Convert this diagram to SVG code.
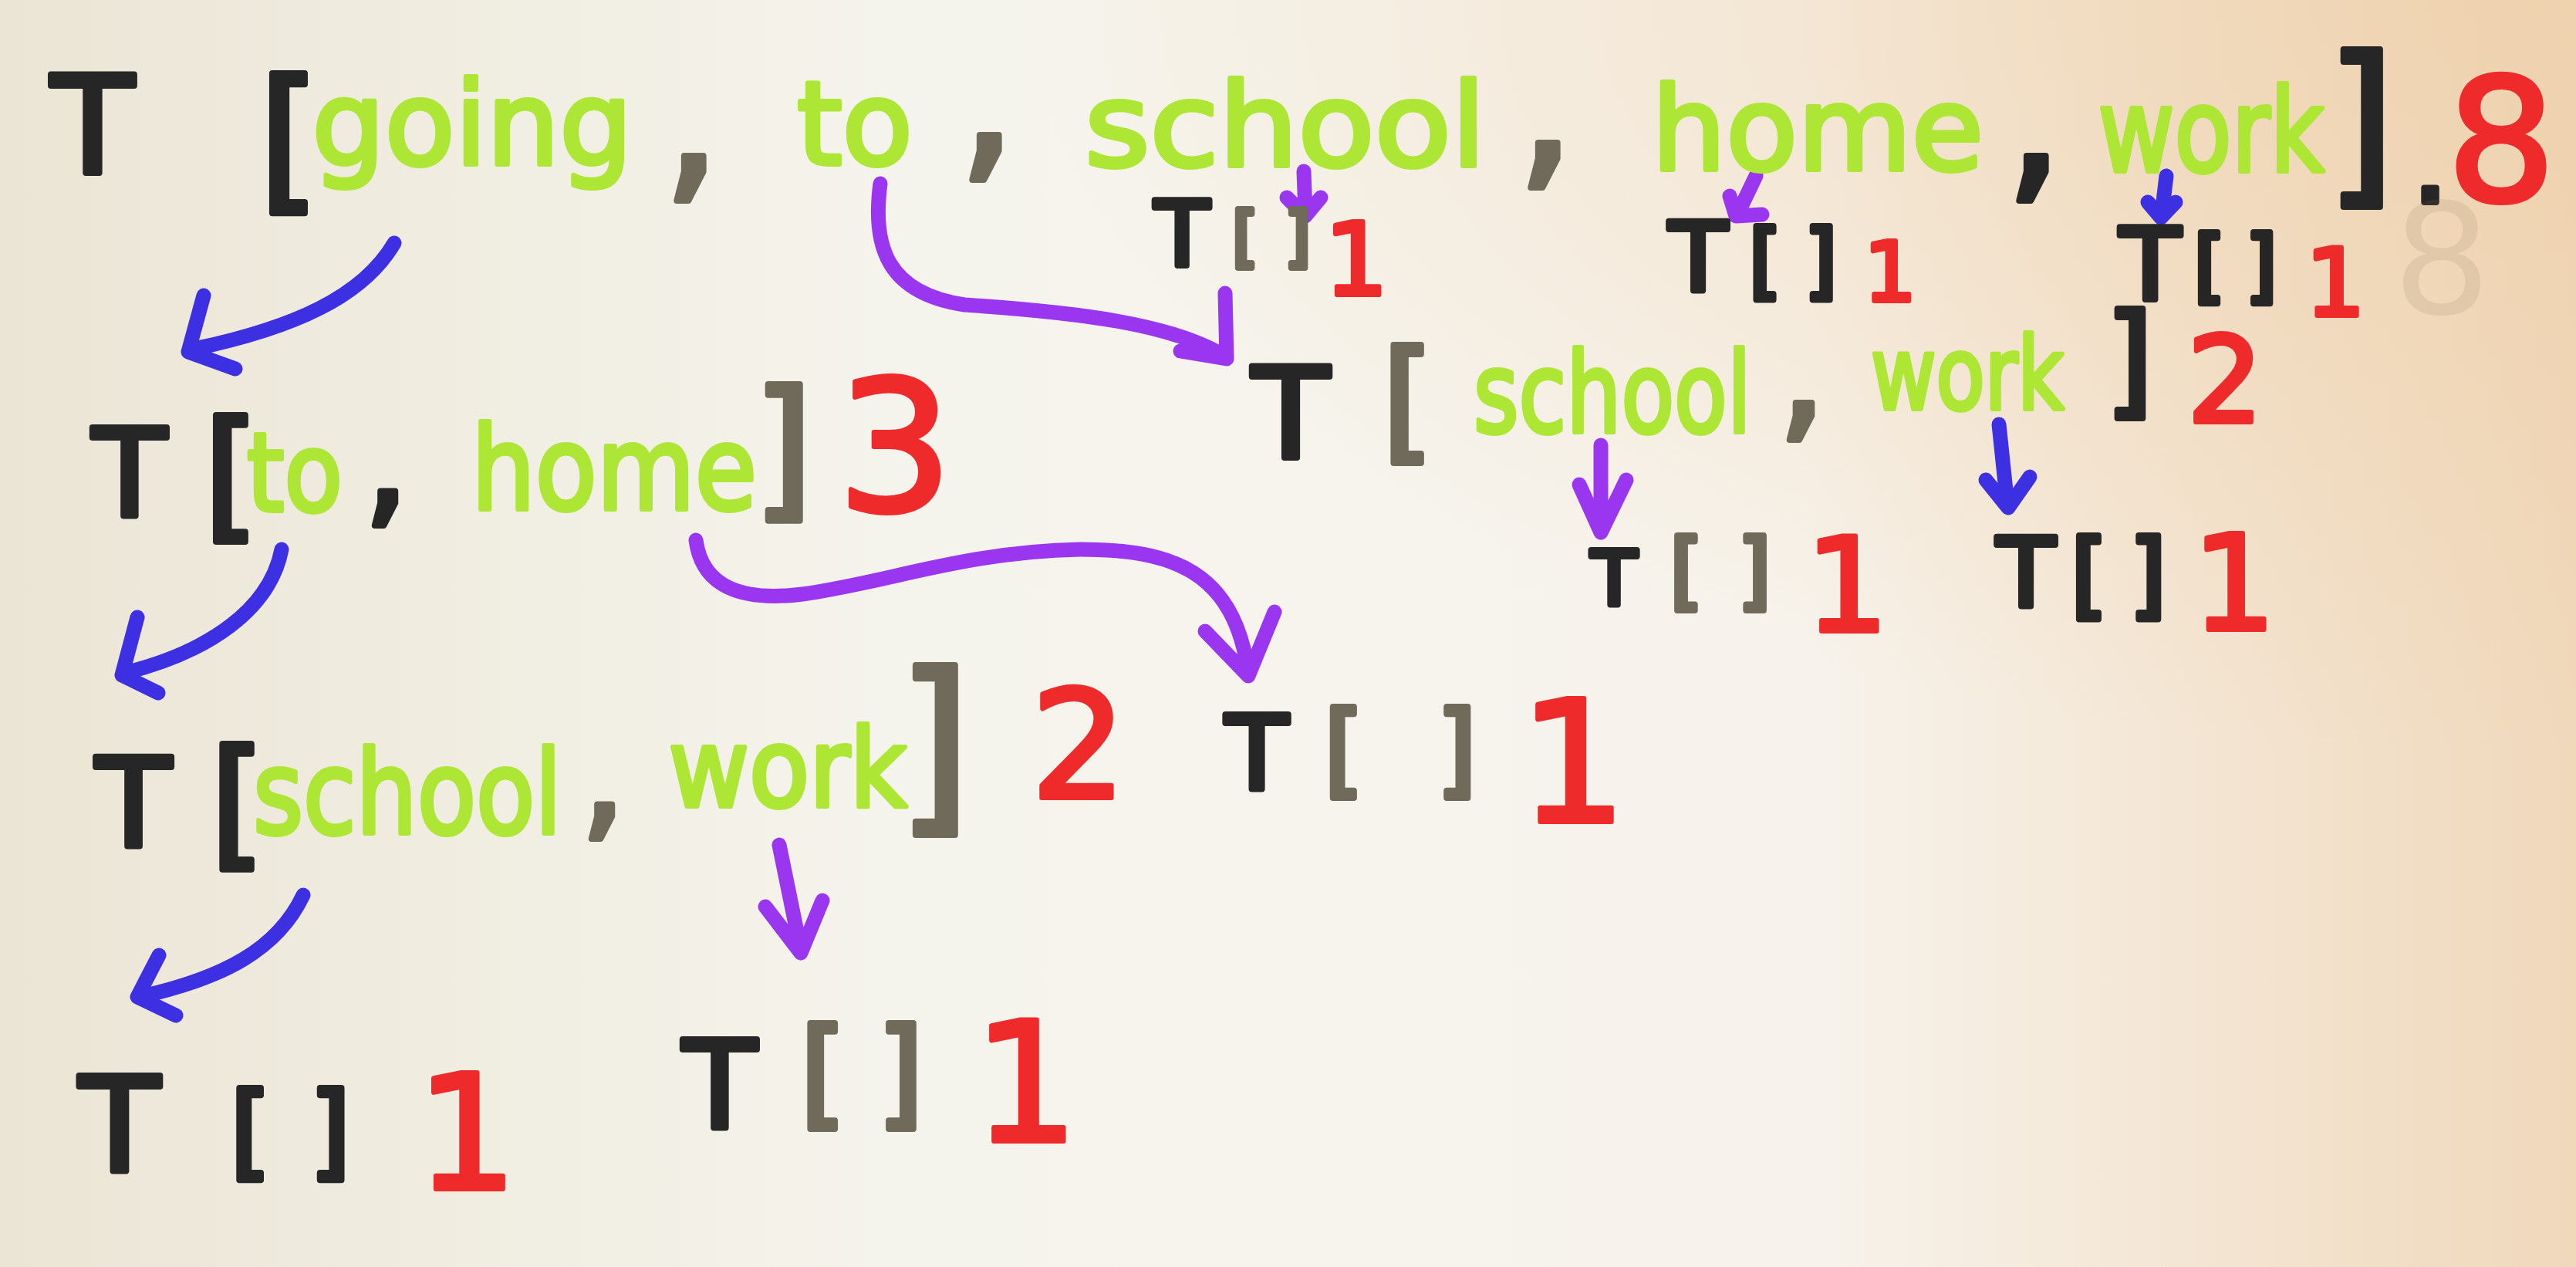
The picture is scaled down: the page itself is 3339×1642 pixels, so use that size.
<svg xmlns="http://www.w3.org/2000/svg" width="3339" height="1642" viewBox="0 0 3339 1642">
<defs>
<linearGradient id="bg" x1="0" y1="0" x2="1" y2="0">
<stop offset="0" stop-color="#ebe5d5"/>
<stop offset="0.35" stop-color="#f5f4ec"/>
<stop offset="0.7" stop-color="#f7f3ec"/>
<stop offset="1" stop-color="#f0d8bb"/>
</linearGradient>
<radialGradient id="warm" cx="1" cy="0" r="0.6">
<stop offset="0" stop-color="#eecfa8" stop-opacity="0.7"/>
<stop offset="1" stop-color="#eecfa8" stop-opacity="0"/>
</radialGradient>
</defs>
<style>
text{font-family:"DejaVu Sans","Liberation Sans",sans-serif;text-anchor:middle}
.k{fill:#262626;stroke:#262626;stroke-width:8;stroke-linejoin:round}
.g{fill:#6f6a5a;stroke:#6f6a5a;stroke-width:8;stroke-linejoin:round}
.w{fill:#ade634;stroke:#ade634;stroke-width:6;stroke-linejoin:round}
.r{fill:#ee2a2a;stroke:#ee2a2a;stroke-width:6;stroke-linejoin:round}
.ghost{fill:#8a7658;opacity:0.14}
.ap{fill:none;stroke:#9a36ef;stroke-width:19;stroke-linecap:round;stroke-linejoin:round}
.ab{fill:none;stroke:#3d30e2;stroke-width:19;stroke-linecap:round;stroke-linejoin:round}
</style>
<rect width="3339" height="1642" fill="url(#bg)"/>
<rect width="3339" height="1642" fill="url(#warm)"/>

<g id="connectors">
<path class="ab" d="M511,315 C470,385 380,425 252,452 M264,383 L244,456 L305,478"/>
<path class="ap" d="M1141,238 C1130,320 1150,380 1250,395 C1400,405 1520,420 1588,462 M1588,380 L1590,465 L1530,455"/>
<path class="ap" d="M1690,222 L1692,276 M1668,256 L1692,280 L1712,256"/>
<path class="ap" d="M2276,228 L2254,274 M2242,254 L2250,280 L2284,278"/>
<path class="ab" d="M2808,228 L2802,278 M2784,262 L2801,282 L2820,262"/>
<path class="ap" d="M2075,577 L2075,688 M2047,628 L2075,690 L2108,622"/>
<path class="ab" d="M2591,550 L2602,655 M2574,622 L2603,658 L2631,618"/>
<path class="ab" d="M365,712 C350,790 270,845 162,872 M178,800 L158,875 L205,898"/>
<path class="ap" d="M902,700 C910,760 960,780 1040,770 C1150,755 1250,715 1400,712 C1520,712 1600,740 1618,872 M1562,818 L1618,876 L1652,793"/>
<path class="ab" d="M393,1160 C360,1230 290,1268 180,1292 M206,1238 L178,1292 L228,1316"/>
<path class="ap" d="M1010,1095 L1038,1232 M992,1175 L1038,1235 L1066,1167"/>
</g>

<g id="node-root">
<text class="k" x="120" y="224" font-size="175">T</text>
<text class="k" x="375" y="250" font-size="203">[</text>
<text class="w" x="612" y="213" font-size="150" textLength="415" lengthAdjust="spacingAndGlyphs">going</text>
<text class="g" x="897" y="232" font-size="240">,</text>
<text class="w" x="1108" y="213" font-size="150" textLength="150" lengthAdjust="spacingAndGlyphs">to</text>
<text class="g" x="1280" y="205" font-size="240">,</text>
<text class="w" x="1666" y="215" font-size="150" textLength="520" lengthAdjust="spacingAndGlyphs">school</text>
<text class="g" x="2004" y="215" font-size="240">,</text>
<text class="w" x="2356" y="220" font-size="150" textLength="430" lengthAdjust="spacingAndGlyphs">home</text>
<text class="k" x="2637" y="232" font-size="240">,</text>
<text class="w" x="2866" y="222" font-size="150" textLength="293" lengthAdjust="spacingAndGlyphs">work</text>
<text class="k" x="3060" y="238" font-size="228">]</text>
<text class="k" x="3150" y="262" font-size="150">.</text>
<text class="r" x="3242" y="260" font-size="222">8</text>
<text class="ghost" x="3165" y="406" font-size="200">8</text>
</g>

<g id="node-school-leaf">
<text class="k" x="1532" y="344" font-size="115">T</text>
<text class="g" x="1614" y="336" font-size="85">[</text>
<text class="g" x="1682" y="336" font-size="85">]</text>
<text class="r" x="1758" y="382" font-size="130">1</text>
</g>

<g id="node-home-leaf">
<text class="k" x="2201" y="377" font-size="123">T</text>
<text class="k" x="2288" y="374" font-size="107">[</text>
<text class="k" x="2360" y="374" font-size="107">]</text>
<text class="r" x="2450" y="390" font-size="107">1</text>
</g>

<g id="node-work-leaf">
<text class="k" x="2787" y="388" font-size="128">T</text>
<text class="k" x="2864" y="380" font-size="103">[</text>
<text class="k" x="2931" y="380" font-size="103">]</text>
<text class="r" x="3027" y="409" font-size="122">1</text>
</g>

<g id="node-school-work-a">
<text class="k" x="1673" y="593" font-size="163">T</text>
<text class="g" x="1825" y="577" font-size="171">[</text>
<text class="w" x="2090" y="560" font-size="145" textLength="360" lengthAdjust="spacingAndGlyphs">school</text>
<text class="g" x="2336" y="547" font-size="200">,</text>
<text class="w" x="2550" y="530" font-size="130" textLength="250" lengthAdjust="spacingAndGlyphs">work</text>
<text class="k" x="2760" y="521" font-size="158">]</text>
<text class="r" x="2884" y="547" font-size="155">2</text>
</g>

<g id="node-school-leaf-a">
<text class="k" x="2092" y="783" font-size="96">T</text>
<text class="g" x="2186" y="777" font-size="109">[</text>
<text class="g" x="2274" y="777" font-size="109">]</text>
<text class="r" x="2394" y="818" font-size="170">1</text>
</g>

<g id="node-work-leaf-a">
<text class="k" x="2626" y="786" font-size="123">T</text>
<text class="k" x="2708" y="786" font-size="121">[</text>
<text class="k" x="2784" y="786" font-size="121">]</text>
<text class="r" x="2896" y="816" font-size="171">1</text>
</g>

<g id="node-to-home">
<text class="k" x="168" y="669" font-size="156">T</text>
<text class="k" x="300" y="678" font-size="183">[</text>
<text class="w" x="382" y="662" font-size="140" textLength="124" lengthAdjust="spacingAndGlyphs">to</text>
<text class="k" x="501" y="659" font-size="185">,</text>
<text class="w" x="796" y="660" font-size="150" textLength="370" lengthAdjust="spacingAndGlyphs">home</text>
<text class="g" x="1015" y="649" font-size="198">]</text>
<text class="r" x="1160" y="662" font-size="236">3</text>
</g>

<g id="node-home-leaf-b">
<text class="k" x="1629" y="1022" font-size="132">T</text>
<text class="g" x="1742" y="1016" font-size="131">[</text>
<text class="g" x="1888" y="1016" font-size="131">]</text>
<text class="r" x="2039" y="1065" font-size="220">1</text>
</g>

<g id="node-school-work-b">
<text class="k" x="173" y="1097" font-size="159">T</text>
<text class="k" x="308" y="1102" font-size="181">[</text>
<text class="w" x="528" y="1080" font-size="150" textLength="400" lengthAdjust="spacingAndGlyphs">school</text>
<text class="g" x="782" y="1065" font-size="185">,</text>
<text class="w" x="1021" y="1045" font-size="140" textLength="309" lengthAdjust="spacingAndGlyphs">work</text>
<text class="g" x="1211" y="1049" font-size="246">]</text>
<text class="r" x="1398" y="1034" font-size="195">2</text>
</g>

<g id="node-school-leaf-b">
<text class="k" x="155" y="1518" font-size="170">T</text>
<text class="k" x="325" y="1512" font-size="134">[</text>
<text class="k" x="428" y="1512" font-size="134">]</text>
<text class="r" x="605" y="1541" font-size="207">1</text>
</g>

<g id="node-work-leaf-b">
<text class="k" x="933" y="1462" font-size="156">T</text>
<text class="g" x="1067" y="1443" font-size="153">[</text>
<text class="g" x="1167" y="1443" font-size="153">]</text>
<text class="r" x="1330" y="1479" font-size="215">1</text>
</g>
</svg>
